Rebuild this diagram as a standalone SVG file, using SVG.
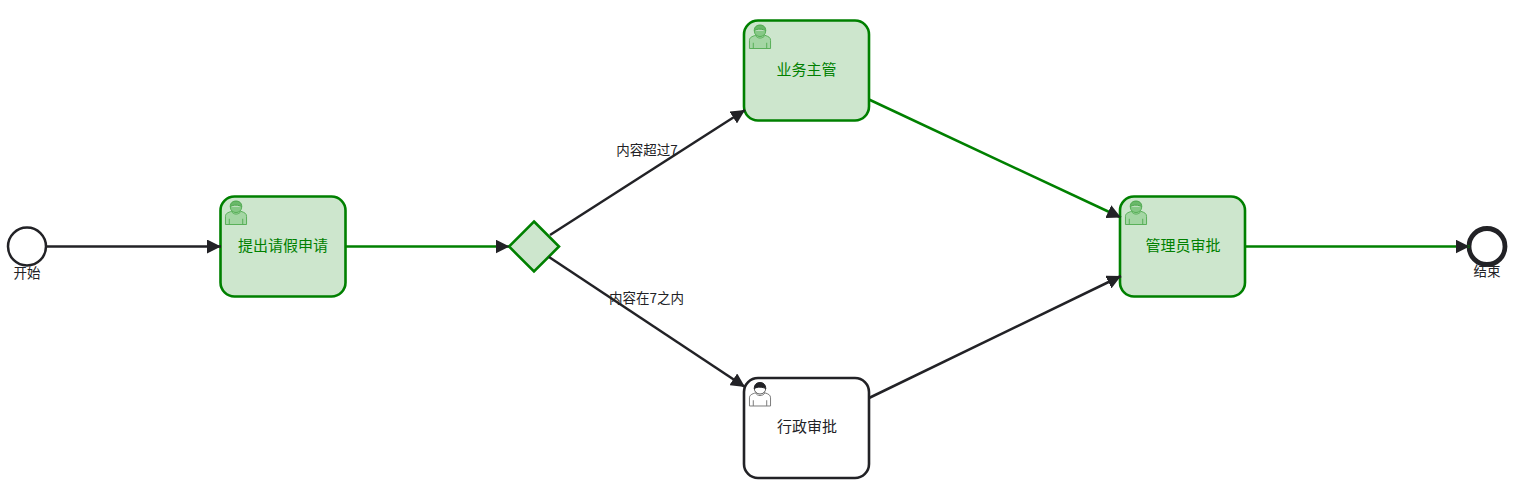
<svg xmlns="http://www.w3.org/2000/svg" width="1518" height="489" viewBox="0 0 1518 489">
<style>
text{font-family:"Noto Sans CJK SC","Liberation Sans",sans-serif;text-anchor:middle}
.task{stroke-width:2.6}
.done{fill:#cde6cd;stroke:#008000}
.todo{fill:#fff;stroke:#222226}
.tl{font-size:15px}
.sl{font-size:13.500px;fill:#222226}
.ink{fill:none;stroke:#222226;stroke-width:2.500}
.green{fill:none;stroke:#008000;stroke-width:2.500}
</style>
<defs>
<marker id="arrow" markerUnits="userSpaceOnUse" markerWidth="16" markerHeight="14" refX="14" refY="7" orient="auto"><path d="M0 0L14 7L0 14Z" fill="#222226"/></marker>
<symbol id="user" viewBox="0 0 24 26" overflow="visible">
<path d="M1 25V16.500C1 13.500 3.500 12.500 7.500 11.200L9 10.300C10 12.500 14 12.500 15.500 10.300L17 11.200C21 12.500 23 13.500 23 16.500V25Z" fill="#a4d6a4" stroke="#55ad55" stroke-width="1"/>
<path d="M5 25V19M19 25V19M7.500 11.500C9 15 15 15 17 11.500" fill="none" stroke="#55ad55" stroke-width="1"/>
<path d="M6 6.500C6 10.500 9 12.500 12 12.500C15 12.500 18 10.500 18 6.500" fill="#86c886" stroke="#55ad55" stroke-width="1"/>
<path d="M6 6.500C9 4 15 4.500 18 6.500C18 2 15 .5 12 .5C9 .5 6 2 6 6.500Z" fill="#6ab86a" stroke="#4aa64a" stroke-width="1"/>
</symbol>
<symbol id="userk" viewBox="0 0 24 26" overflow="visible">
<path d="M1 25V16.500C1 13.500 3.500 12.500 7.500 11.200L9 10.300C10 12.500 14 12.500 15.500 10.300L17 11.200C21 12.500 23 13.500 23 16.500V25Z" fill="#fff" stroke="#777" stroke-width="1"/>
<path d="M5 25V19M19 25V19M7.500 11.500C9 15 15 15 17 11.500" fill="none" stroke="#777" stroke-width="1"/>
<path d="M6 6.500C6 10.500 9 12.500 12 12.500C15 12.500 18 10.500 18 6.500" fill="#fff" stroke="#555" stroke-width="1"/>
<path d="M6 7C9 4.500 15 5 18 7C18 2 15 .5 12 .5C9 .5 6 2 6 7Z" fill="#222226" stroke="#222226" stroke-width="1"/>
</symbol>
</defs>
<g id="start"><circle cx="27" cy="246.500" r="19" fill="#fff" stroke="#222226" stroke-width="2.500"/><text class="sl" x="27" y="277.500">开始</text></g>
<g id="task-apply"><rect class="task done" x="220.500" y="196.500" width="125" height="100" rx="14"/><use href="#user" x="224.500" y="200.500" width="23" height="25"/><text class="tl" x="283" y="250.500" fill="#008000">提出请假申请</text></g>
<g id="gateway"><path class="done" stroke-width="2.600" d="M534 221.500L559 246.500L534 271.500L509 246.500Z"/></g>
<g id="task-manager"><rect class="task done" x="744" y="20.500" width="125" height="100" rx="14"/><use href="#user" x="748.500" y="24.500" width="23" height="25"/><text class="tl" x="806.500" y="74.500" fill="#008000">业务主管</text></g>
<g id="task-admin"><rect class="task todo" x="744" y="378" width="125" height="100" rx="14"/><use href="#userk" x="748.500" y="382" width="23" height="25"/><text class="tl" x="807" y="431.500" fill="#222226">行政审批</text></g>
<g id="task-approve"><rect class="task done" x="1120" y="196.500" width="125" height="100" rx="14"/><use href="#user" x="1124.500" y="200.500" width="23" height="25"/><text class="tl" x="1183" y="250.500" fill="#008000">管理员审批</text></g>
<g id="end"><circle cx="1487" cy="246.500" r="18" fill="#fff" stroke="#222226" stroke-width="4.800"/><text class="sl" x="1487" y="275.500">结束</text></g>
<g id="connectors">
<path class="ink" marker-end="url(#arrow)" d="M46 246.500H221"/>
<path class="green" marker-end="url(#arrow)" d="M346 246.500H509.500"/>
<path class="ink" marker-end="url(#arrow)" d="M550 235L745 110"/>
<path class="ink" marker-end="url(#arrow)" d="M549 257L745 387"/>
<path class="green" marker-end="url(#arrow)" d="M869 99.500L1121 217.500"/>
<path class="ink" marker-end="url(#arrow)" d="M869 398L1121 276"/>
<path class="green" marker-end="url(#arrow)" d="M1246 246.500H1469.500"/>
</g>
<g id="flow-labels">
<text class="sl" x="647" y="154.500">内容超过7</text>
<text class="sl" x="646.500" y="303">内容在7之内</text>
</g>
</svg>
